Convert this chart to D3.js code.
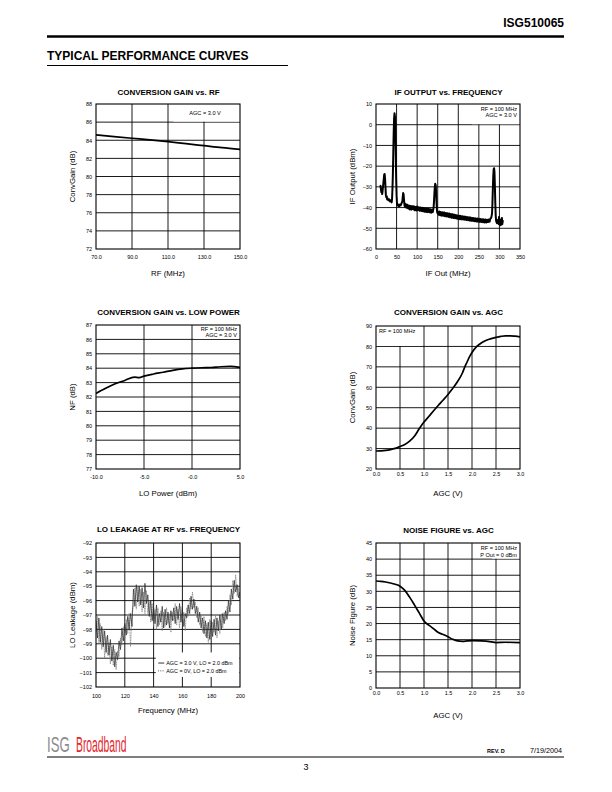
<!DOCTYPE html>
<html>
<head>
<meta charset="utf-8">
<script src="https://cdn.jsdelivr.net/npm/d3@7"></script>
<style>
  body { margin: 0; background: #fff; }
  svg { display: block; font-family: "Liberation Sans", Arial, Helvetica, sans-serif; }
</style>
</head>
<body>
<svg id="page" width="612" height="792"></svg>
<script>
// ---- conversion gain vs RF
const rfFreq = [70, 80, 90, 100, 110, 120, 130, 140, 150];
const rfGain = [84.6, 84.4, 84.22, 84.05, 83.85, 83.62, 83.4, 83.18, 83.0];
const rfTicks = [70, 90, 110, 130, 150];
const rfGainTicks = [72, 74, 76, 78, 80, 82, 84, 86, 88];

// ---- IF output vs frequency (spectrum trace)
const ifFreq = [10, 11, 12, 13, 14, 15, 16, 17, 18, 19, 20, 21, 22, 23, 24, 25, 26, 27, 28, 30,
  32, 34, 36, 38, 39, 40, 41, 42, 43, 44, 45, 46, 47, 48, 49, 50, 51, 52, 54, 56,
  58, 60, 62, 64, 65, 66, 67, 68, 69, 70, 72, 74, 76, 78, 80, 82, 84, 86, 88, 90,
  92, 94, 96, 98, 100, 102, 104, 106, 108, 110, 112, 114, 116, 118, 120, 122, 124, 126, 128, 130,
  132, 134, 136, 138, 140, 141, 142, 143, 144, 145, 146, 147, 148, 149, 150, 152, 154, 156, 158, 160,
  162, 164, 166, 168, 170, 172, 174, 176, 178, 180, 182, 184, 186, 188, 190, 192, 194, 196, 198, 200,
  202, 204, 206, 208, 210, 212, 214, 216, 218, 220, 222, 224, 226, 228, 230, 232, 234, 236, 238, 240,
  242, 244, 246, 248, 250, 252, 254, 256, 258, 260, 262, 264, 266, 268, 270, 272, 274, 276, 278, 280,
  282, 283, 284, 285, 286, 287, 288, 289, 290, 291, 292, 294, 296, 298, 299, 300, 302, 303, 304, 306,
  307, 308, 310];
const ifLevel = [-30, -29.5, -31, -32.5, -31, -33.5, -32, -30, -28, -26, -24, -23.8, -26, -30, -34, -35, -34.5, -36, -35.5, -36.5,
  -36, -37, -36.5, -37.5, -36, -31, -24, -14, -4, 3, 5.5, 4, -3, -14, -26, -34, -38, -39, -38.5, -39.5,
  -38.5, -39, -38, -37, -35, -33, -33.5, -36, -38.5, -39.5, -38.2, -40.1, -38.6, -40.4, -39.0, -40.9, -39.2, -41.0, -39.3, -40.8,
  -39.4, -41.3, -39.7, -41.4, -39.5, -41.2, -39.8, -41.5, -40.0, -41.7, -40.1, -41.8, -40.2, -42.0, -40.4, -42.1, -40.5, -42.2, -40.6, -42.3,
  -40.8, -42.5, -41.0, -42.2, -40, -37, -33, -30, -28.5, -29, -32, -37, -41, -42.5, -42.0, -43.5, -41.9, -43.7, -42.2, -43.9,
  -42.3, -44.0, -42.4, -44.2, -42.6, -44.3, -42.7, -44.5, -42.9, -44.7, -43.1, -44.9, -43.2, -45.0, -43.4, -45.2, -43.6, -45.3, -43.8, -45.5,
  -43.9, -45.6, -44.0, -45.7, -44.2, -45.8, -44.3, -45.9, -44.4, -46.0, -44.6, -46.1, -44.7, -46.3, -44.8, -46.4, -45.0, -46.5, -45.1, -46.6,
  -45.2, -46.7, -45.3, -46.8, -45.4, -46.9, -45.5, -47.0, -45.6, -47.1, -45.7, -47.2, -45.8, -47.2, -45.9, -47.0, -45.8, -46.8, -45.3, -45.0,
  -43, -38, -31, -25, -21.5, -21, -23, -30, -38, -44, -46.5, -47.5, -46, -48, -44.5, -47, -46, -48.5, -46.5, -45,
  -48, -46.5, -46.8];
const ifTicks = [0, 50, 100, 150, 200, 250, 300, 350];
const ifLevelTicks = [-60, -50, -40, -30, -20, -10, 0, 10];

// ---- conversion gain vs LO power
const loPower = [-10, -9, -8, -7, -6, -5.5, -5, -4, -3, -2, -1, 0, 1, 2, 3, 4, 5];
const loGain = [82.25, 82.6, 82.92, 83.15, 83.38, 83.34, 83.45, 83.6, 83.72, 83.85, 83.95, 84.0, 84.03, 84.05, 84.1, 84.12, 84.05];
const loTicks = [-10, -5, 0, 5];
const loTickLabels = ["-10.0", "-5.0", "-0.0", "5.0"];
const loGainTicks = [77, 78, 79, 80, 81, 82, 83, 84, 85, 86, 87];

// ---- conversion gain vs AGC
const agcVolts = [0, 0.1, 0.2, 0.3, 0.4, 0.5, 0.6, 0.7, 0.8, 0.9, 1.0, 1.1, 1.2, 1.3, 1.4, 1.5, 1.6, 1.7,
  1.8, 1.85, 1.9, 1.95, 2.0, 2.1, 2.2, 2.3, 2.4, 2.5, 2.6, 2.7, 2.8, 2.9, 3.0];
const agcGain = [28.8, 28.9, 29.1, 29.5, 30.1, 31, 32, 33.6, 36, 39.7, 43, 45.7, 48.5, 51.2, 53.8, 56.5, 59.5, 62.8,
  67, 70, 72.5, 75, 77, 80, 81.8, 83, 83.8, 84.4, 84.9, 85.2, 85.2, 85, 84.7];
const agcTicks = [0, 0.5, 1.0, 1.5, 2.0, 2.5, 3.0];
const agcGainTicks = [20, 30, 40, 50, 60, 70, 80, 90];

// ---- LO leakage at RF vs frequency (1 MHz sweep points)
const leakFreq = d3.range(100, 201, 1);
const leakAgc3 = [-97.4, -98.6, -97.2, -98.9, -97.8, -99.2, -98.1, -99.6, -98.4, -99.8,
  -98.7, -100.2, -99.1, -100.6, -99.6, -100.1, -98.8, -99.4, -97.9, -98.8,
  -97.6, -98.4, -97.1, -98.0, -96.9, -97.8, -95.2, -96.4, -94.9, -96.1,
  -95.0, -96.3, -95.1, -96.5, -94.8, -96.2, -95.6, -97.1, -96.0, -97.4,
  -96.5, -97.6, -96.3, -97.8, -96.9, -97.5, -96.4, -97.9, -96.6, -97.7,
  -96.8, -97.9, -96.7, -97.4, -96.5, -97.6, -96.4, -97.3, -96.2, -97.5,
  -96.6, -97.8, -96.9, -97.2, -96.3, -96.9, -95.7, -96.6, -95.9, -96.9,
  -96.4, -97.5, -96.8, -97.9, -97.2, -98.3, -97.4, -98.6, -97.5, -98.7,
  -97.4, -98.5, -97.3, -98.4, -97.2, -98.1, -97.0, -98.0, -96.9, -97.6,
  -96.7, -97.3, -96.0, -96.8, -95.2, -95.9, -94.6, -95.4, -94.9, -95.8, -95.4];
const leakAgc0 = [-98.2, -97.1, -99.0, -97.6, -99.4, -98.0, -100.0, -98.5, -99.8, -98.9,
  -100.4, -99.2, -100.5, -99.4, -100.8, -99.5, -99.9, -98.6, -99.1, -97.8,
  -98.6, -97.3, -98.3, -96.9, -99.2, -96.8, -96.3, -95.1, -96.6, -95.0,
  -96.4, -95.2, -96.8, -95.4, -96.9, -95.3, -96.9, -96.0, -97.5, -96.2,
  -97.8, -96.6, -98.0, -96.5, -97.7, -96.7, -98.1, -96.8, -97.8, -96.5,
  -97.6, -96.9, -98.2, -96.8, -97.4, -96.2, -97.7, -96.6, -97.9, -96.4,
  -97.3, -96.8, -98.1, -96.5, -97.1, -95.8, -96.6, -95.4, -96.5, -96.1,
  -97.2, -96.5, -97.7, -97.0, -98.2, -97.1, -98.5, -97.6, -98.9, -97.3,
  -98.7, -97.5, -98.2, -97.0, -98.6, -97.4, -98.3, -96.9, -97.9, -96.8,
  -97.4, -96.4, -96.9, -95.6, -96.3, -94.6, -95.5, -94.2, -95.7, -95.1, -96.0];
const leakTicks = [100, 120, 140, 160, 180, 200];
const leakLevelTicks = [-102, -101, -100, -99, -98, -97, -96, -95, -94, -93, -92];
const leakLegend = ["AGC = 3.0 V, LO = 2.0 dBm", "AGC = 0V, LO = 2.0 dBm"];

// ---- noise figure vs AGC
const nfAgc = [0, 0.1, 0.2, 0.3, 0.4, 0.5, 0.6, 0.7, 0.8, 0.9, 1.0, 1.1, 1.2, 1.3, 1.4, 1.5, 1.6, 1.7, 1.8, 1.9, 2.0, 2.2, 2.4, 2.5, 2.7, 3.0];
const nfValue = [33.2, 33.1, 32.9, 32.6, 32.2, 31.6, 30.3, 28.2, 25.8, 23.3, 20.8, 19.5, 18.4, 17.2, 16.6, 15.9, 15.1, 14.6, 14.5, 14.6, 14.7, 14.6, 14.3, 14.1, 14.2, 14.1];
const nfTicks = [0, 5, 10, 15, 20, 25, 30, 35, 40, 45];

const svg = d3.select("#page");
const fmt1 = d3.format(".1f");

const charts = [
  { title: "CONVERSION GAIN vs. RF", left: 96, top: 104, width: 144, height: 145,
    xDomain: [70, 150], xTicks: rfTicks, xFmt: fmt1, yDomain: [72, 88], yTicks: rfGainTicks,
    xTitle: "RF (MHz)", yTitle: "ConvGain (dB)", titleY: 95, xPad: 6, xTitleY: 276,
    series: [{ x: rfFreq, y: rfGain, w: 1.7, curve: d3.curveMonotoneX }],
    box: { x: [113, 150], y: [88, 86] },
    notes: [{ text: "AGC = 3.0 V", anchor: "middle", dx: 109, dy: 11 }] },
  { title: "IF OUTPUT vs. FREQUENCY", left: 376, top: 104, width: 144, height: 145,
    xDomain: [0, 350], xTicks: ifTicks, xFmt: d3.format("d"), yDomain: [-60, 10], yTicks: ifLevelTicks,
    xTitle: "IF Out (MHz)", yTitle: "IF Output (dBm)", titleY: 95, xPad: 6, xTitleY: 276,
    series: [{ x: ifFreq, y: ifLevel, w: 2.0, curve: d3.curveLinear }],
    box: { x: [233, 350], y: [10, 0] },
    notes: [{ text: "RF = 100 MHz", anchor: "end", dx: 141, dy: 7 },
            { text: "AGC = 3.0 V", anchor: "end", dx: 141, dy: 13 }] },
  { title: "CONVERSION GAIN vs. LOW POWER", left: 96, top: 325, width: 144, height: 144,
    xDomain: [-10, 5], xTicks: loTicks, xFmt: (d, i) => loTickLabels[i], yDomain: [77, 87], yTicks: loGainTicks,
    xTitle: "LO Power (dBm)", yTitle: "NF (dB)", titleY: 315, xPad: 6, xTitleY: 496,
    series: [{ x: loPower, y: loGain, w: 1.7, curve: d3.curveMonotoneX }],
    box: { x: [0.2, 5], y: [87, 86] },
    notes: [{ text: "RF = 100 MHz", anchor: "end", dx: 141, dy: 6 },
            { text: "AGC = 3.0 V", anchor: "end", dx: 141, dy: 12 }] },
  { title: "CONVERSION GAIN vs. AGC", left: 376, top: 326, width: 144, height: 143,
    xDomain: [0, 3], xTicks: agcTicks, xFmt: fmt1, yDomain: [20, 90], yTicks: agcGainTicks,
    xTitle: "AGC (V)", yTitle: "ConvGain (dB)", titleY: 315, xPad: 3, xTitleY: 496,
    series: [{ x: agcVolts, y: agcGain, w: 1.7, curve: d3.curveMonotoneX }],
    box: { x: [0, 0.95], y: [90, 80] },
    notes: [{ text: "RF = 100 MHz", anchor: "start", dx: 3, dy: 7 }] },
  { title: "LO LEAKAGE AT RF vs. FREQUENCY", left: 96, top: 543, width: 144, height: 144,
    xDomain: [100, 200], xTicks: leakTicks, xFmt: d3.format("d"), yDomain: [-102, -92], yTicks: leakLevelTicks,
    xTitle: "Frequency (MHz)", yTitle: "LO Leakage (dBm)", titleY: 532, xPad: 7, xTitleY: 713,
    series: [{ x: leakFreq, y: leakAgc0, w: 0.7, color: "#7a7a7a", dash: "1.2,0.5", curve: d3.curveLinear },
             { x: leakFreq, y: leakAgc3, w: 0.7, color: "#262626", curve: d3.curveLinear }],
    legend: true },
  { title: "NOISE FIGURE vs. AGC", left: 376, top: 543, width: 144, height: 145,
    xDomain: [0, 3], xTicks: agcTicks, xFmt: fmt1, yDomain: [0, 45], yTicks: nfTicks,
    xTitle: "AGC (V)", yTitle: "Noise Figure (dB)", titleY: 533, xPad: 3, xTitleY: 718,
    series: [{ x: nfAgc, y: nfValue, w: 1.7, curve: d3.curveMonotoneX }],
    box: { x: [2.42, 3], y: [45, 40] },
    notes: [{ text: "RF = 100 MHz", anchor: "end", dx: 141, dy: 7 },
            { text: "P Out = 0 dBm", anchor: "end", dx: 141, dy: 13.5 }] }
];

function drawChart(c, idx) {
  const g = svg.append("g").attr("class", "chart");
  const x = d3.scaleLinear().domain(c.xDomain).range([c.left, c.left + c.width]);
  const y = d3.scaleLinear().domain(c.yDomain).range([c.top + c.height, c.top]);
  const cx = c.left + c.width / 2;

  g.append("text").attr("x", cx + 0.5).attr("y", c.titleY)
    .attr("text-anchor", "middle").attr("font-size", 8).attr("font-weight", "bold")
    .text(c.title);

  // grid
  g.append("g").selectAll("line").data(c.xTicks.slice(1, -1)).join("line")
    .attr("x1", d => x(d)).attr("x2", d => x(d))
    .attr("y1", c.top).attr("y2", c.top + c.height)
    .attr("stroke", "#000").attr("stroke-width", 0.9);
  g.append("g").selectAll("line").data(c.yTicks.slice(1, -1)).join("line")
    .attr("x1", c.left).attr("x2", c.left + c.width)
    .attr("y1", d => y(d)).attr("y2", d => y(d))
    .attr("stroke", "#000").attr("stroke-width", 0.9);

  // label box hides grid behind the note
  if (c.box) {
    g.append("rect")
      .attr("x", x(c.box.x[0])).attr("y", y(c.box.y[0]))
      .attr("width", x(c.box.x[1]) - x(c.box.x[0]))
      .attr("height", y(c.box.y[1]) - y(c.box.y[0]) - 0.5)
      .attr("fill", "#fff");
    c.notes.forEach(n => {
      g.append("text").attr("x", c.left + n.dx).attr("y", c.top + n.dy)
        .attr("text-anchor", n.anchor).attr("font-size", 5.6).text(n.text);
    });
  }

  const clipId = "clip" + idx;
  g.append("clipPath").attr("id", clipId).append("rect")
    .attr("x", c.left).attr("y", c.top).attr("width", c.width).attr("height", c.height);

  c.series.forEach(s => {
    const pts = s.x.map((v, i) => [v, s.y[i]]);
    const line = d3.line().x(d => x(d[0])).y(d => y(d[1])).curve(s.curve);
    g.append("path").datum(pts)
      .attr("clip-path", `url(#${clipId})`)
      .attr("d", line).attr("fill", "none")
      .attr("stroke", s.color || "#000").attr("stroke-width", s.w)
      .attr("stroke-dasharray", s.dash || null)
      .attr("stroke-linejoin", "round");
  });

  if (c.legend) {
    const lx = x(141.5), top = y(-99.6), bot = y(-101.3);
    g.append("rect").attr("x", lx).attr("y", top)
      .attr("width", c.left + c.width - lx - 0.5).attr("height", bot - top).attr("fill", "#fff");
    g.append("line").attr("x1", lx + 2.5).attr("x2", lx + 8.5).attr("y1", top + 10.6).attr("y2", top + 10.6)
      .attr("stroke", "#000").attr("stroke-width", 0.8);
    g.append("line").attr("x1", lx + 2.5).attr("x2", lx + 9).attr("y1", top + 18.4).attr("y2", top + 18.4)
      .attr("stroke", "#000").attr("stroke-width", 0.8).attr("stroke-dasharray", "0.8,1.4");
    leakLegend.forEach((t, i) => {
      g.append("text").attr("x", lx + 10.5).attr("y", top + 12.6 + i * 7.8)
        .attr("font-size", 5.4).text(t);
    });
  }

  g.append("rect").attr("x", c.left).attr("y", c.top)
    .attr("width", c.width).attr("height", c.height)
    .attr("fill", "none").attr("stroke", "#000").attr("stroke-width", 1.1);

  const xa = g.append("g").attr("transform", `translate(0,${c.top + c.height})`)
    .call(d3.axisBottom(x).tickValues(c.xTicks).tickFormat(c.xFmt).tickSize(0).tickPadding(c.xPad));
  const ya = g.append("g").attr("transform", `translate(${c.left},0)`)
    .call(d3.axisLeft(y).tickValues(c.yTicks).tickFormat(d3.format("d")).tickSize(0).tickPadding(4));
  [xa, ya].forEach(a => {
    a.select(".domain").remove();
    a.attr("font-family", null).attr("font-size", 5.5);
    a.selectAll("text").attr("fill", "#000");
  });

  g.append("text").attr("x", cx).attr("y", c.xTitleY)
    .attr("text-anchor", "middle").attr("font-size", 7.8).attr("font-weight", "normal").text(c.xTitle);
  g.append("text")
    .attr("transform", `translate(${c.left - 21},${c.top + c.height / 2}) rotate(-90)`)
    .attr("text-anchor", "middle").attr("font-size", 7.8).attr("font-weight", "normal").text(c.yTitle);
}

charts.forEach(drawChart);

// ---- page header
svg.append("text").attr("x", 564).attr("y", 27).attr("text-anchor", "end")
  .attr("font-size", 12).attr("font-weight", "bold").text("ISG510065");
svg.append("line").attr("x1", 47).attr("x2", 564).attr("y1", 36.5).attr("y2", 36.5)
  .attr("stroke", "#000").attr("stroke-width", 2.4);
svg.append("text").attr("x", 47).attr("y", 60)
  .attr("font-size", 12).attr("font-weight", "bold").text("TYPICAL PERFORMANCE CURVES");
svg.append("line").attr("x1", 47).attr("x2", 288).attr("y1", 65.5).attr("y2", 65.5)
  .attr("stroke", "#000").attr("stroke-width", 1);

// ---- page footer: condensed logo by horizontal scaling
svg.append("text").attr("transform", "translate(47,752) scale(0.6,1)")
  .attr("font-size", 22).attr("fill", "#8c8c8c").text("ISG");
svg.append("text").attr("transform", "translate(76,752) scale(0.47,1)")
  .attr("font-size", 22).attr("fill", "#e3262e").text("Broadband");
svg.append("line").attr("x1", 47).attr("x2", 564).attr("y1", 757).attr("y2", 757)
  .attr("stroke", "#000").attr("stroke-width", 1.2);
svg.append("text").attr("x", 487).attr("y", 753)
  .attr("font-size", 5.5).attr("font-weight", "bold").text("REV. D");
svg.append("text").attr("x", 562).attr("y", 753).attr("text-anchor", "end")
  .attr("font-size", 7.2).text("7/19/2004");
svg.append("text").attr("x", 306).attr("y", 770).attr("text-anchor", "middle")
  .attr("font-size", 9).text("3");
</script>
</body>
</html>
